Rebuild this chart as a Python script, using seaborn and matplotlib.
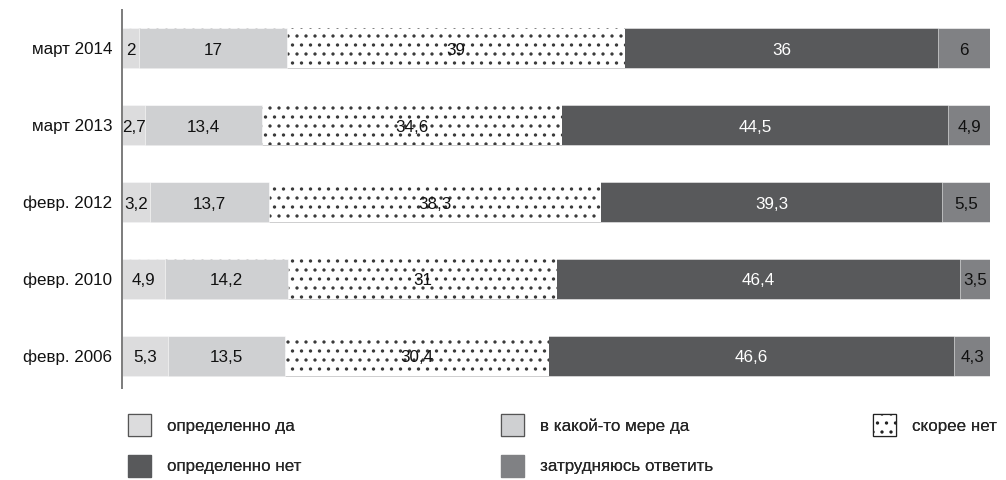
import matplotlib
matplotlib.use("Agg")
import matplotlib.pyplot as plt
import matplotlib.patches as mpatches
from matplotlib import font_manager
import numpy as np
import seaborn as sns

# Survey waves (rows, top to bottom)
periods = ["март 2014", "март 2013", "февр. 2012", "февр. 2010", "февр. 2006"]

# Answer shares, % (one list per answer option)
definitely_yes = [2, 2.7, 3.2, 4.9, 5.3]
rather_yes = [17, 13.4, 13.7, 14.2, 13.5]
rather_no = [39, 34.6, 38.3, 31, 30.4]
definitely_no = [36, 44.5, 39.3, 46.4, 46.6]
hard_to_say = [6, 4.9, 5.5, 3.5, 4.3]

answers = ["определенно да", "в какой-то мере да", "скорее нет",
           "определенно нет", "затрудняюсь ответить"]
series = [definitely_yes, rather_yes, rather_no, definitely_no, hard_to_say]

face = ["#dcdcdd", "#cfd0d2", "#ffffff", "#58595b", "#808184"]
hatches = [None, None, ".", None, None]
text_col = ["#111111", "#111111", "#111111", "#ffffff", "#111111"]

# A low dpi makes the '.' hatch as dense as a fine dot screen
DPI = 54
W, H = 1006, 480
PX = 72.0 / DPI          # points per pixel

sns.set_style("white")
names = {f.name for f in font_manager.fontManager.ttflist}
main_font = "Liberation Sans Narrow" if "Liberation Sans Narrow" in names else "Liberation Sans"
plt.rcParams["font.family"] = [main_font, "DejaVu Sans"]
plt.rcParams["hatch.linewidth"] = 2.0

FS_PX = 17.0
FS = FS_PX * PX

fig = plt.figure(figsize=(W / DPI, H / DPI), dpi=DPI)
ax = fig.add_axes([122 / W, 92 / H, 868 / W, 378 / H])

values = np.array(series, dtype=float)
cum = np.cumsum(values, axis=0)

# Stacked bars: draw cumulative totals from the widest down, each one covering the previous
for i in reversed(range(len(series))):
    if hatches[i]:
        kw = dict(edgecolor="#3a3a3a", linewidth=0, hatch=hatches[i])
    else:
        kw = dict(edgecolor="white", linewidth=0.7)
    sns.barplot(x=cum[i], y=periods, orient="h", color=face[i], saturation=1,
                width=0.52, ax=ax, **kw)

# Value labels centred in each segment
for i in range(len(series)):
    for j, v in enumerate(values[i]):
        centre = cum[i][j] - v / 2
        ax.text(centre, j + 0.03, f"{v:g}".replace(".", ","), ha="center", va="center",
                fontsize=FS, color=text_col[i])

ax.set_xlim(0, 100)
ax.set_ylim(4.42, -0.49)
ax.set_xlabel("")
ax.set_ylabel("")
ax.set_xticks([])
for side in ["top", "right", "bottom"]:
    ax.spines[side].set_visible(False)
ax.spines["left"].set_color("#7f7f7f")
ax.spines["left"].set_linewidth(2 * PX)
ax.tick_params(axis="y", length=0, pad=10 * PX, labelsize=FS, labelcolor="#111111")

# Legend: three columns placed across the bottom
def handle(i):
    if hatches[i]:
        return mpatches.Patch(facecolor="white", edgecolor="#222222", hatch=hatches[i],
                              linewidth=1.2 * PX)
    ec = "#555555" if i < 2 else face[i]
    return mpatches.Patch(facecolor=face[i], edgecolor=ec, linewidth=1.2 * PX)

hh = (22 / FS_PX - 0.245) / 0.65
columns = [([0, 3], 128), ([1, 4], 501), ([2], 873)]
for idx, x0 in columns:
    leg = fig.legend([handle(i) for i in idx], [answers[i] for i in idx],
                     loc="upper left", bbox_to_anchor=(x0 / W, 1 - 414 / H),
                     frameon=False, fontsize=FS, handlelength=23 / FS_PX,
                     handleheight=hh, handletextpad=16 / FS_PX,
                     labelspacing=1.09, borderpad=0, borderaxespad=0)
    fig.add_artist(leg)

fig.savefig("out.png", dpi=DPI)
